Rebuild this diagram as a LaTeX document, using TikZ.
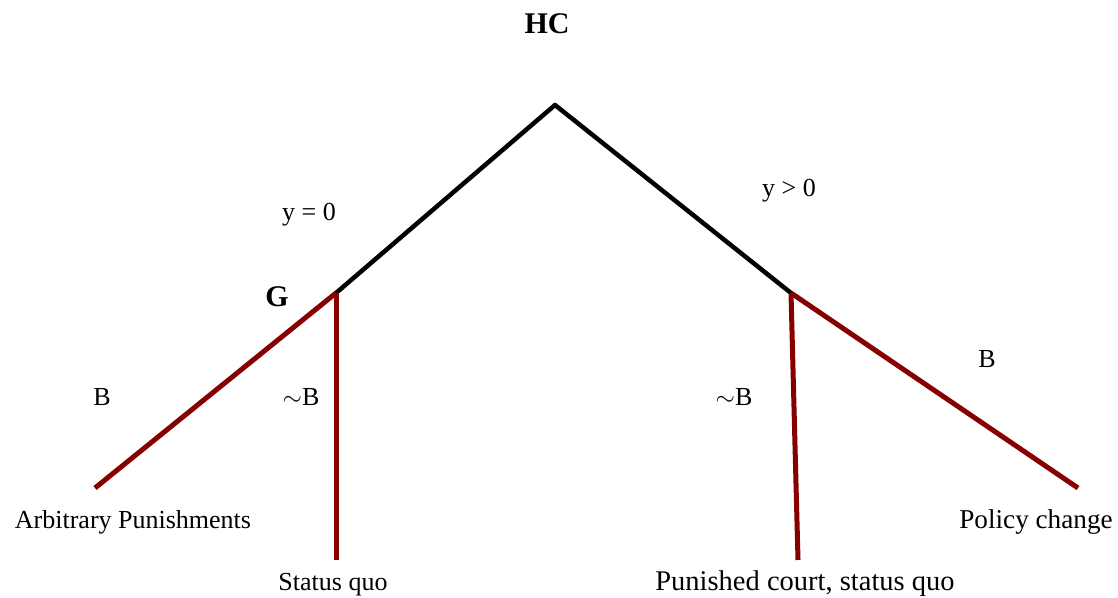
\documentclass[tikz,border=0pt]{standalone}
\usepackage{fontspec}
\setmainfont{Liberation Serif}
\definecolor{treered}{RGB}{135,0,0}
\begin{document}
\begin{tikzpicture}[x=1pt,y=-1pt,
  edgeblack/.style={line width=4.5pt,black},
  edgered/.style={line width=5pt,treered},
  lbl/.style={inner sep=0pt,anchor=base,font=\fontsize{26}{30}\selectfont},
  plyr/.style={inner sep=0pt,anchor=base,font=\fontsize{30}{34}\selectfont\bfseries}]
\useasboundingbox (0,0) rectangle (1118,597);
\coordinate (root) at (555,105);
\coordinate (g) at (336,293);
\coordinate (r) at (791,293);
\coordinate (ap) at (95,488);
\coordinate (sq) at (336,560);
\coordinate (pc) at (798,560);
\coordinate (pol) at (1078,488);
\draw[edgeblack,line cap=round] (root) -- (g);
\draw[edgeblack,line cap=round] (root) -- (r);
\draw[edgered] (g) -- (ap);
\draw[edgered] (g) -- (sq);
\draw[edgered] (r) -- (pc);
\draw[edgered] (r) -- (pol);
\node[plyr] (hc) at (547,33) {HC};
\node[plyr] (gl) at (277,306) {G};
\node[lbl] (y0) at (309,220) {y = 0};
\node[lbl] (yp) at (789,196) {y > 0};
\node[lbl] (bl) at (102,405) {B};
\node[lbl] (nbl) at (301,405) {$\sim$B};
\node[lbl] (nbr) at (734,405) {$\sim$B};
\node[lbl] (br) at (987,367) {B};
\node[lbl] (tap) at (133,528) {Arbitrary Punishments};
\node[lbl] (tsq) at (333,590) {Status quo};
\node[lbl,font=\fontsize{28.5}{32}\selectfont] (tpc) at (805,590) {Punished court, status quo};
\node[lbl,font=\fontsize{27.2}{31}\selectfont] (tpol) at (1036,528) {Policy change};
\end{tikzpicture}
\end{document}
